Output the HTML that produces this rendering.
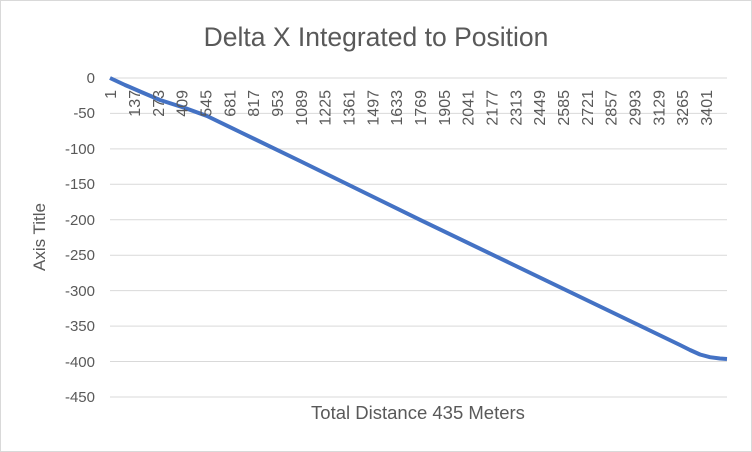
<!DOCTYPE html>
<html><head><style>body{margin:0;background:#fff}svg{display:block}</style></head><body>
<svg width="752" height="452" xmlns="http://www.w3.org/2000/svg" font-family="Liberation Sans, sans-serif">
<rect x="0.5" y="0.5" width="751" height="451" fill="#fff" stroke="#d9d9d9"/>
<text x="376" y="46" text-anchor="middle" font-size="26.5" fill="#595959">Delta X Integrated to Position</text>
<g stroke="#d9d9d9" stroke-width="1">
<line x1="110" x2="727" y1="78" y2="78"/><line x1="110" x2="727" y1="113.4" y2="113.4"/><line x1="110" x2="727" y1="148.9" y2="148.9"/><line x1="110" x2="727" y1="184.3" y2="184.3"/><line x1="110" x2="727" y1="219.8" y2="219.8"/><line x1="110" x2="727" y1="255.2" y2="255.2"/><line x1="110" x2="727" y1="290.6" y2="290.6"/><line x1="110" x2="727" y1="326.1" y2="326.1"/><line x1="110" x2="727" y1="361.5" y2="361.5"/><line x1="110" x2="727" y1="397" y2="397"/>
</g>
<g font-size="15" fill="#595959" text-anchor="end">
<text x="95" y="83">0</text><text x="95" y="118">-50</text><text x="95" y="154">-100</text><text x="95" y="189">-150</text><text x="95" y="225">-200</text><text x="95" y="260">-250</text><text x="95" y="296">-300</text><text x="95" y="331">-350</text><text x="95" y="367">-400</text><text x="95" y="402">-450</text>
</g>
<text transform="translate(45,237) rotate(-90)" text-anchor="middle" font-size="17" fill="#595959">Axis Title</text>
<text x="418" y="419" text-anchor="middle" font-size="18.5" fill="#595959">Total Distance 435 Meters</text>
<polyline fill="none" stroke="#4472c4" stroke-width="4" stroke-linejoin="round" points="110,78 125,85 140,91.5 160,100 185,108 207,116 240,132 300,161 420,219.8 680,345 690,350 700,354.5 710,357.2 720,358.5 727,359"/>
<g font-size="16" fill="#595959" text-anchor="end" id="xl"></g>
</svg>
<script>
var g=document.getElementById('xl');
for(var i=0;i<26;i++){var v=1+136*i;var x=110+(v-0.5)*617/3520+6;
var t=document.createElementNS('http://www.w3.org/2000/svg','text');
t.setAttribute('transform','translate('+x+',90) rotate(-90)');t.setAttribute('x','0');t.setAttribute('y','0');t.setAttribute('text-anchor','end');
t.textContent=v;g.appendChild(t);}
</script>
</body></html>
